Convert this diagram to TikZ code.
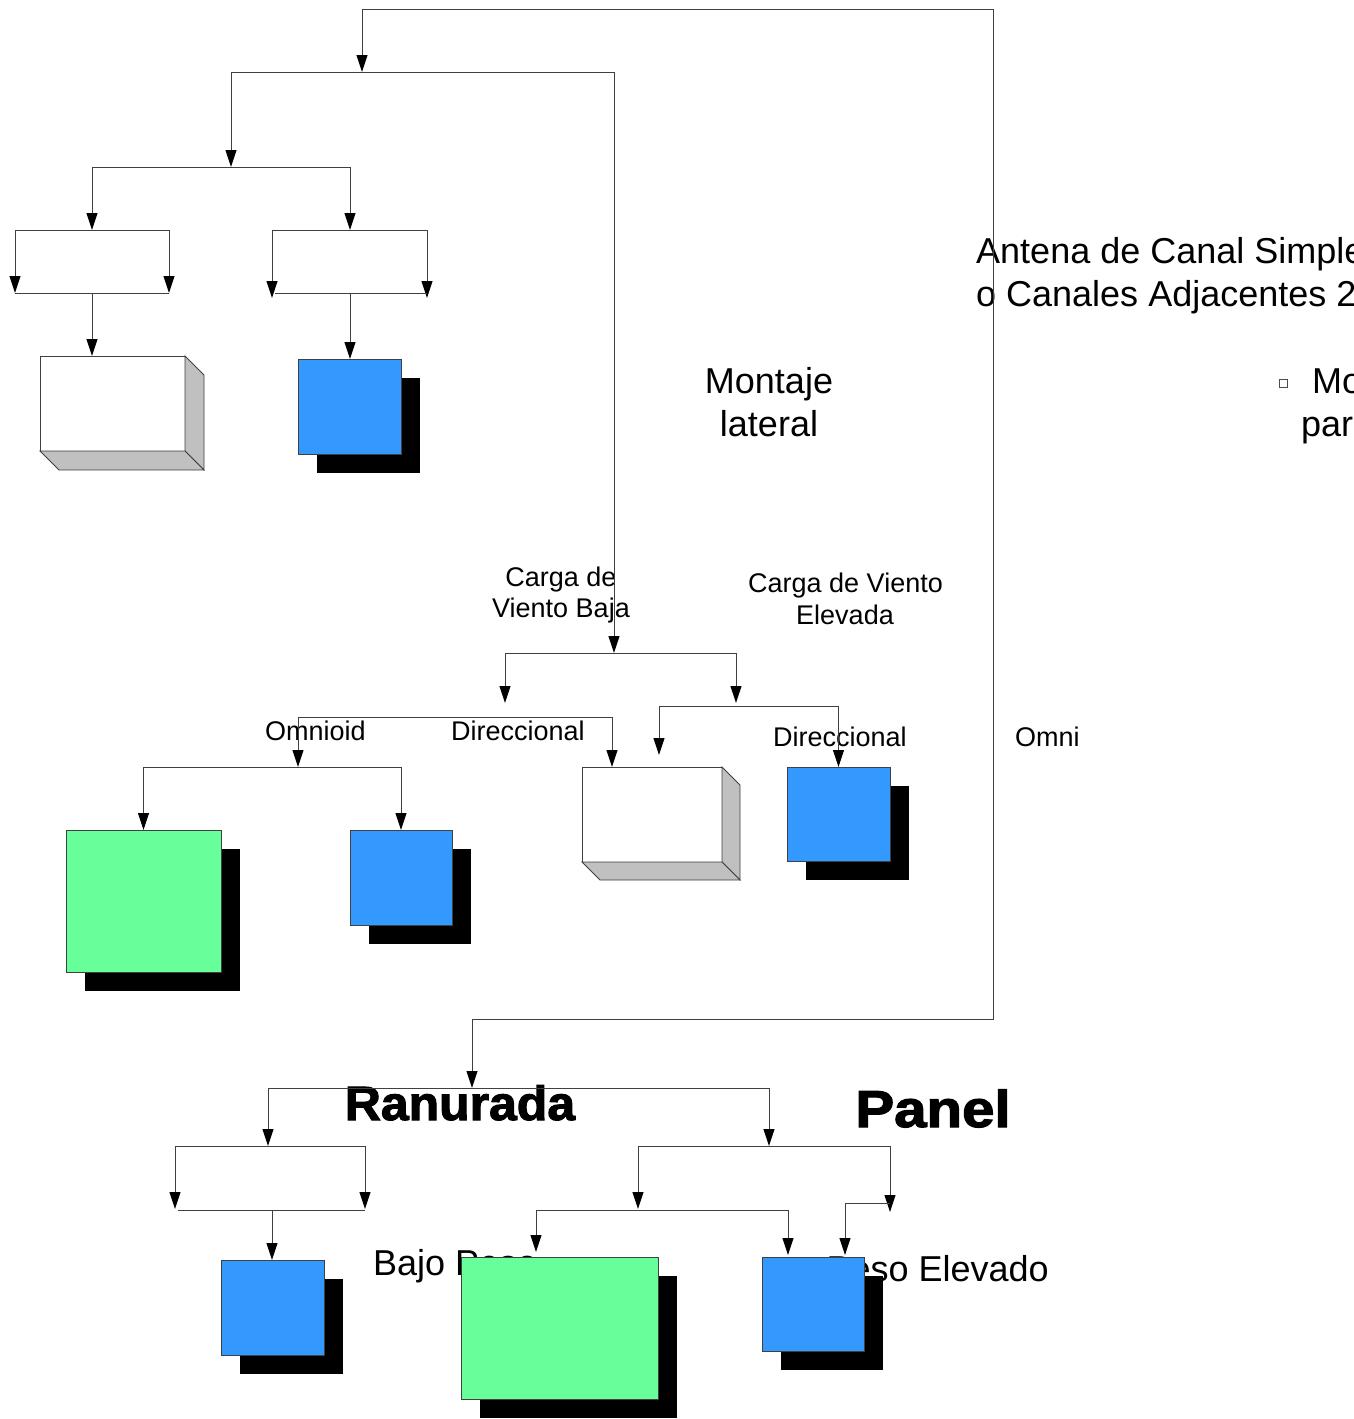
\documentclass[tikz,border=0pt]{standalone}
\usepackage{fontspec}
\setmainfont{Liberation Sans}
\newfontfamily\heavyfont{Liberation Sans Bold}[FakeBold=2.2]
\usetikzlibrary{arrows.meta,shadows}
\definecolor{boxblue}{HTML}{3399FF}
\definecolor{boxgreen}{HTML}{66FF99}
\definecolor{facegray}{HTML}{C0C0C0}
\definecolor{linegray}{HTML}{404040}
\tikzset{
  conn/.style={draw=linegray, line width=1pt, arrows={-Triangle[length=17pt,width=11pt,black]}},
  connboth/.style={draw=linegray, line width=1pt, arrows={Triangle[length=17pt,width=11pt,black]-Triangle[length=17pt,width=11pt,black]}},
  plainline/.style={draw=linegray, line width=1pt},
  frontbox/.style={draw=linegray, line width=0.8pt, inner sep=0pt, outer sep=0pt},
  whitebox/.style={frontbox, fill=white},
  facebox/.style={draw=linegray, line width=0.8pt, fill=facegray},
  shadowed/.style={frontbox, drop shadow={shadow xshift=19pt, shadow yshift=-19pt, fill=black, opacity=1}},
  bluebox/.style={shadowed, fill=boxblue},
  greenbox/.style={shadowed, fill=boxgreen},
  bigtxt/.style={inner sep=0pt, font=\fontsize{36pt}{43pt}\selectfont},
  midtxt/.style={inner sep=0pt, font=\fontsize{27pt}{31pt}\selectfont},
}
\begin{document}
\begin{tikzpicture}[x=1pt, y=-1pt]
\useasboundingbox (0,0) rectangle (1354,1419);
\clip (0,0) rectangle (1354,1419);
\fill[white] (0,0) rectangle (1354,1419);

% ---------- texts ----------
\node[bigtxt, anchor=base] (t-mont1) at (769,393) {Montaje};
\node[bigtxt, anchor=base] (t-mont2) at (769,436) {lateral};
\node[bigtxt, anchor=base west] (t-ant1) at (976,263) {Antena de Canal Simple};
\node[bigtxt, anchor=base west] (t-ant2) at (976,306) {o Canales Adjacentes 2-};
\node[draw=black!70, line width=0.8pt, minimum size=8pt, inner sep=0pt] (t-bullet) at (1283,383) {};
\node[bigtxt, anchor=base west] (t-mo) at (1312,393) {Mo};
\node[bigtxt, anchor=base west] (t-par) at (1301,436) {par};
\node[midtxt, anchor=base] (t-cb1) at (561,586) {Carga de};
\node[midtxt, anchor=base] (t-cb2) at (561,617) {Viento Baja};
\node[midtxt, anchor=base west] (t-ce1) at (748,592) {Carga de Viento};
\node[midtxt, anchor=base] (t-ce2) at (845,624) {Elevada};
\node[midtxt, anchor=base west] (t-omnioid) at (265,740) {Omnioid};
\node[midtxt, anchor=base west] (t-dir1) at (451,740) {Direccional};
\node[midtxt, anchor=base west] (t-dir2) at (773,746) {Direccional};
\node[midtxt, anchor=base west] (t-omni) at (1015,746) {Omni};
\node[bigtxt, anchor=base west] (t-bajo) at (373,1275) {Bajo Peso};
\node[bigtxt, anchor=base east] (t-pesoel) at (1049,1281) {Peso Elevado};
\node[inner sep=0pt, anchor=base, font=\heavyfont\fontsize{48pt}{52pt}\selectfont, xscale=1.04, transform shape] (t-ran) at (460,1120) {Ranurada};
\node[inner sep=0pt, anchor=base, font=\heavyfont\fontsize{52pt}{56pt}\selectfont, xscale=1.12, transform shape] (t-panel) at (933,1127) {Panel};

% ---------- boxes ----------
% 3D white boxes
\node[whitebox, minimum width=145pt, minimum height=95pt] (wb1) at (112.5,403.5) {};
\filldraw[facebox] (wb1.north east) -- ++(19,19) -- ++(0,95) -- ++(-19,-19) -- cycle;
\filldraw[facebox] (wb1.south west) -- ++(19,19) -- ++(145,0) -- ++(-19,-19) -- cycle;
\node[whitebox, minimum width=140pt, minimum height=95pt] (wb2) at (652,814.5) {};
\filldraw[facebox] (wb2.north east) -- ++(18,18) -- ++(0,95) -- ++(-18,-18) -- cycle;
\filldraw[facebox] (wb2.south west) -- ++(18,18) -- ++(140,0) -- ++(-18,-18) -- cycle;

% shadowed boxes
\node[bluebox, minimum width=103pt, minimum height=95pt] (bb1) at (349.5,406.5) {};
\node[greenbox, minimum width=155pt, minimum height=142pt] (gb1) at (143.5,901) {};
\node[bluebox, minimum width=102pt, minimum height=95pt] (bb2) at (401,877.5) {};
\node[bluebox, minimum width=103pt, minimum height=94pt] (bb3) at (838.5,814) {};
\node[bluebox, minimum width=103pt, minimum height=95pt] (bb4) at (272.5,1307.5) {};
\node[greenbox, minimum width=197pt, minimum height=142pt] (gb2) at (559.5,1328) {};
\node[bluebox, minimum width=102pt, minimum height=94pt] (bb5) at (813,1304) {};

% ---------- connector coordinates ----------
\coordinate (T0) at (362,72);
\coordinate (A1) at (231,167);
\coordinate (B1) at (92,230);
\coordinate (B2) at (350,230);
\coordinate (B1b) at (92,293);
\coordinate (B2b) at (350,293);
\coordinate (M0) at (614,653);
\coordinate (M1) at (505,703);
\coordinate (M2) at (736,703);
\coordinate (M3) at (298,767);
\coordinate (M4) at (659,755);
\coordinate (B0) at (472,1088);
\coordinate (C1) at (268,1146);
\coordinate (C1b) at (272,1210);
\coordinate (C2) at (769,1146);
\coordinate (C3) at (638,1209);
\coordinate (C4) at (890,1212);
\coordinate (C5) at (890,1203);
\coordinate (D1) at (536,1252);
\coordinate (D2) at (788,1255);
\coordinate (D3) at (845,1255);

% ---------- connectors ----------
% big loop (top and bottom trees)
\draw[connboth] (T0) -- (362,9) -- (993,9) -- (993,1019) -- (472,1019) -- (B0);
% top tree
\draw[conn] (T0) -| (A1);
\draw[conn] (T0) -| (M0);
\draw[conn] (A1) -| (B1);
\draw[conn] (A1) -| (B2);
\draw[conn] (B1) -| (15,293);
\draw[conn] (B1) -| (169,293);
\draw[plainline] (15,293) -- (169,293);
\draw[conn] (B1b) -- (B1b |- wb1.north);
\draw[conn] (B2) -| (272,298);
\draw[conn] (B2) -| (427,298);
\draw[plainline] (275,293) -- (427,293);
\draw[conn] (B2b) -- (B2b |- bb1.north);
% middle tree
\draw[conn] (M0) -| (M1);
\draw[conn] (M0) -| (M2);
\draw[connboth] (M3) -- ++(0,-50) -| (612,767);
\draw[connboth] (M4) -- ++(0,-49) -| (bb3.north);
\draw[conn] (M3) -| (gb1.north);
\draw[conn] (M3) -| (bb2.north);
% bottom tree
\draw[conn] (B0) -| (C1);
\draw[conn] (B0) -| (C2);
\draw[conn] (C1) -| (175,1209);
\draw[conn] (C1) -| (365,1209);
\draw[plainline] (178,1210) -- (365,1210);
\draw[conn] (C1b) -- (C1b |- bb4.north);
\draw[conn] (C2) -| (C3);
\draw[conn] (C2) -| (C4);
\draw[connboth] (D1) -- ++(0,-42) -| (D2);
\draw[conn] (C5) -| (D3);
\end{tikzpicture}
\end{document}
